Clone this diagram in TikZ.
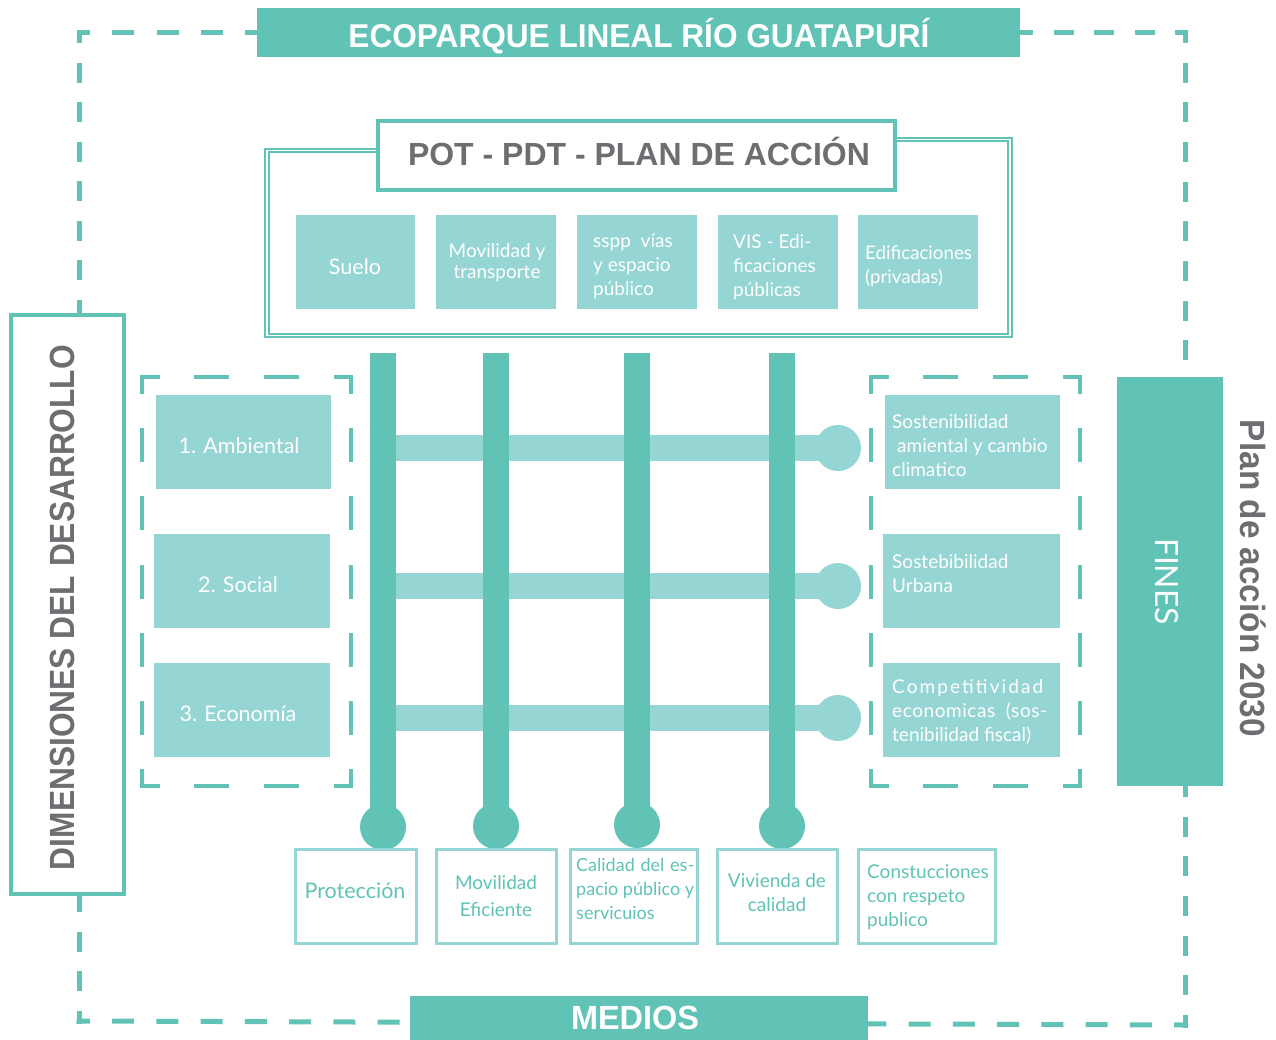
\documentclass[tikz,border=0pt]{standalone}
\usepackage{fontspec}
\usepackage{graphicx}
\setmainfont{Lato}
\newfontfamily\hfont{Liberation Sans}
\definecolor{dteal}{HTML}{60C3B6}
\definecolor{lteal}{HTML}{95D5D3}
\definecolor{gtext}{HTML}{6D6E71}
\tikzset{
  odash/.style={draw=dteal, line width=5pt, line cap=rect},
  bdash/.style={draw=dteal, line width=4pt, line cap=rect},
  fillbox/.style={fill=lteal, inner sep=0pt, minimum height=94pt},
  linebox/.style={draw=lteal, line width=3pt, fill=white, inner sep=0pt, minimum height=94pt},
  banner/.style={fill=dteal, inner sep=0pt},
  wtxt/.style={text=white, inner sep=0pt, font=\fontsize{19}{24}\selectfont},
  ttxt/.style={text=dteal, inner sep=0pt, font=\fontsize{19}{24}\selectfont},
  vbar/.style={draw=dteal, line width=26pt},
  hbar/.style={draw=lteal, line width=26pt},
  dcirc/.style={circle, fill=dteal, minimum size=46pt, inner sep=0pt},
  lcirc/.style={circle, fill=lteal, minimum size=46pt, inner sep=0pt},
  frametwo/.style={draw=dteal, double=white, line width=2pt, double distance=1.5pt},
  headtxt/.style={inner sep=0pt, anchor=base},
}
\begin{document}
\begin{tikzpicture}[x=1pt,y=-1pt]
\useasboundingbox (0,0) rectangle (1276,1040);
% outer dashed frame
\coordinate (otl) at (79,33);
\coordinate (otr) at (1185,33);
\coordinate (otm) at (1020,33);
\coordinate (obl) at (79,1021);
\coordinate (obr) at (1185,1025);
\draw[odash, dash pattern=on 17pt off 27.28pt, dash phase=8.5pt] (otl) -- (otm);
\draw[odash, dash pattern=on 15pt off 25.5pt, dash phase=7.5pt] (otr) -- (otm);
\draw[odash, dash pattern=on 17pt off 27.24pt, dash phase=8.5pt] (obl) -- (obr);
\draw[odash, dash pattern=on 15pt off 24.52pt, dash phase=7.5pt] (otl) -- (obl);
\draw[odash, dash pattern=on 15pt off 24.68pt, dash phase=7.5pt] (otr) -- (obr);

% title banner
\node[banner, minimum width=763pt, minimum height=49pt] (ttl) at (638.5,32.5) {};
\node[headtxt, text=white, font=\hfont\bfseries\fontsize{33}{34}\selectfont] (ttltxt) at (639,47.5) {\resizebox{581pt}{\height}{ECOPARQUE LINEAL RÍO GUATAPURÍ}};

% medios banner
\node[banner, minimum width=458pt, minimum height=46pt] (med) at (639,1019) {};
\node[headtxt, text=white, font=\hfont\bfseries\fontsize{33.5}{35}\selectfont] (medtxt) at (635,1029) {\resizebox{128pt}{\height}{MEDIOS}};

% dimensiones box
\node[draw=dteal, line width=4pt, fill=white, minimum width=113pt, minimum height=579pt, inner sep=0pt] (dim) at (67.5,604.5) {};
\node[headtxt, text=gtext, rotate=90, font=\hfont\bfseries\fontsize{35}{36}\selectfont] (dimtxt) at (74,607.5) {\resizebox{525pt}{\height}{DIMENSIONES DEL DESARROLLO}};

% fines box
\node[banner, minimum width=106pt, minimum height=409pt] (fin) at (1170,581.5) {};
\node[headtxt, text=white, rotate=-90, font=\fontsize{32}{34}\selectfont] (fintxt) at (1155,581.5) {\resizebox{87pt}{\height}{FINES}};
\node[headtxt, text=gtext, rotate=-90, font=\hfont\bfseries\fontsize{35}{36}\selectfont] (plantxt) at (1240,578.5) {\resizebox{317pt}{\height}{Plan de acción 2030}};

% POT frame
\coordinate (pa) at (378,150.5);
\coordinate (pb) at (267,150.5);
\coordinate (pc) at (267,335.5);
\coordinate (pd) at (1010,335.5);
\coordinate (pe) at (1010,139.5);
\coordinate (pf) at (895,139.5);
\draw[frametwo] (pa) -- (pb) -- (pc) -- (pd) -- (pe) -- (pf);
\node[draw=dteal, line width=3.5pt, fill=white, minimum width=517pt, minimum height=69pt, inner sep=0pt] (pot) at (636.5,155.5) {};
\node[headtxt, text=gtext, font=\hfont\bfseries\fontsize{32}{34}\selectfont] (pottxt) at (639,166) {\resizebox{462pt}{\height}{POT - PDT - PLAN DE ACCIÓN}};

% top boxes
\node[fillbox, minimum width=119pt] (suelo) at (355.5,262) {};
\node[fillbox, minimum width=120pt] (movt) at (496,262) {};
\node[fillbox, minimum width=120pt] (sspp) at (637,262) {};
\node[fillbox, minimum width=120pt] (vis) at (778,262) {};
\node[fillbox, minimum width=120pt] (edif) at (918,262) {};
\node[wtxt, font=\fontsize{21.5}{24}\selectfont] (suelotxt) at (355,267) {Suelo};
\node[wtxt, align=center, font=\fontsize{19}{21}\selectfont] (movttxt) at (497,263) {Movilidad y\\transporte};
\node[wtxt, align=left, anchor=west] (sspptxt) at (593,266) {sspp\ \ vías\\y espacio\\público};
\node[wtxt, align=left, anchor=west] (vistxt) at (733,267) {VIS - Edi-\\ficaciones\\públicas};
\node[wtxt, align=left, anchor=west, font=\fontsize{18.7}{24}\selectfont] (ediftxt) at (865,266) {Edificaciones\\(privadas)};

% left dashed group
\coordinate (la) at (142,377);
\coordinate (lb) at (351,377);
\coordinate (lc) at (351,786);
\coordinate (ld) at (142,786);
\draw[bdash, dash pattern=on 31pt off 38.67pt, dash phase=15.5pt] (la) -- (lb);
\draw[bdash, dash pattern=on 31pt off 38.67pt, dash phase=15.5pt] (ld) -- (lc);
\draw[bdash, dash pattern=on 30pt off 38.17pt, dash phase=15pt] (la) -- (ld);
\draw[bdash, dash pattern=on 30pt off 38.17pt, dash phase=15pt] (lb) -- (lc);
\node[fillbox, minimum width=175pt] (amb) at (243.5,442) {};
\node[fillbox, minimum width=176pt] (soc) at (242,581) {};
\node[fillbox, minimum width=176pt] (eco) at (242,710) {};
\node[wtxt, font=\fontsize{21.5}{24}\selectfont] (ambtxt) at (239,446) {1. Ambiental};
\node[wtxt, font=\fontsize{21.5}{24}\selectfont] (soctxt) at (238,585) {2. Social};
\node[wtxt, font=\fontsize{21.5}{24}\selectfont] (ecotxt) at (238,714) {3. Economía};

% right dashed group
\coordinate (ra) at (871,377);
\coordinate (rb) at (1080,377);
\coordinate (rc) at (1080,786);
\coordinate (rd) at (871,786);
\draw[bdash, dash pattern=on 31pt off 38.67pt, dash phase=15.5pt] (ra) -- (rb);
\draw[bdash, dash pattern=on 31pt off 38.67pt, dash phase=15.5pt] (rd) -- (rc);
\draw[bdash, dash pattern=on 30pt off 38.17pt, dash phase=15pt] (ra) -- (rd);
\draw[bdash, dash pattern=on 30pt off 38.17pt, dash phase=15pt] (rb) -- (rc);
\node[fillbox, minimum width=175pt] (sam) at (972.5,442) {};
\node[fillbox, minimum width=177pt] (sur) at (971.5,581) {};
\node[fillbox, minimum width=177pt] (com) at (971.5,710) {};
\node[wtxt, align=left, anchor=west] (samtxt) at (892,446) {Sostenibilidad\\\hspace*{5pt}amiental y cambio\\climatico};
\node[wtxt, align=left, anchor=west] (surtxt) at (892,574) {Sostebibilidad\\Urbana};
\node[wtxt, align=left, anchor=west] (comtxt) at (892,712) {{\addfontfeature{LetterSpace=11}Competitividad}\\\makebox[155pt][s]{{\addfontfeature{LetterSpace=3}economicas (sos-}}\\tenibilidad fiscal)};

% horizontal bars
\coordinate (h1s) at (383,448);
\coordinate (h2s) at (383,586);
\coordinate (h3s) at (383,718);
\node[lcirc] (h1c) at (838,448) {};
\node[lcirc] (h2c) at (838,586) {};
\node[lcirc] (h3c) at (838,718) {};
\draw[hbar] (h1s) -- (h1c.center);
\draw[hbar] (h2s) -- (h2c.center);
\draw[hbar] (h3s) -- (h3c.center);

% vertical bars
\coordinate (v1t) at (383,353);
\coordinate (v2t) at (496,353);
\coordinate (v3t) at (637,353);
\coordinate (v4t) at (782,353);
\node[dcirc] (v1c) at (383,827) {};
\node[dcirc] (v2c) at (496,826) {};
\node[dcirc] (v3c) at (637,825) {};
\node[dcirc] (v4c) at (782,826) {};
\draw[vbar] (v1t) -- (v1c.center);
\draw[vbar] (v2t) -- (v2c.center);
\draw[vbar] (v3t) -- (v3c.center);
\draw[vbar] (v4t) -- (v4c.center);

% bottom boxes
\node[linebox, minimum width=121pt] (pro) at (355.5,896) {};
\node[linebox, minimum width=120pt] (mef) at (496,896) {};
\node[linebox, minimum width=127pt] (cal) at (633.5,896) {};
\node[linebox, minimum width=120pt] (viv) at (777,896) {};
\node[linebox, minimum width=137pt] (con) at (926.5,896) {};
\node[ttxt, font=\fontsize{21.5}{24}\selectfont] (protxt) at (355,891) {Protección};
\node[ttxt, align=center, font=\fontsize{19}{27}\selectfont] (meftxt) at (496,896) {Movilidad\\Eficiente};
\node[ttxt, align=left, anchor=west, font=\fontsize{18}{24}\selectfont] (caltxt) at (576,889) {\makebox[118pt][s]{Calidad del es-}\\\makebox[118pt][s]{pacio público y}\\servicuios};
\node[ttxt, align=center] (vivtxt) at (777,893) {Vivienda de\\calidad};
\node[ttxt, align=left, anchor=west] (contxt) at (867,897) {Constucciones\\con respeto\\publico};
\end{tikzpicture}
\end{document}
